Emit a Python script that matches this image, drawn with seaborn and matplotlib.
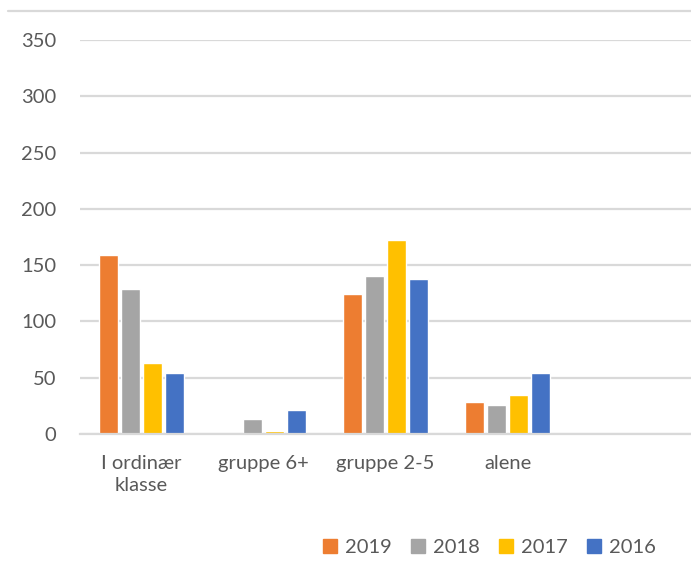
import numpy as np
import pandas as pd
import seaborn as sns
import matplotlib.pyplot as plt
from matplotlib.lines import Line2D

# Values
categories = ["I ordinær\nklasse", "gruppe 6+", "gruppe 2-5", "alene"]
years = ["2019", "2018", "2017", "2016"]
values_2019 = [159, 0, 124, 28]
values_2018 = [129, 13, 140, 26]
values_2017 = [63, 3, 172, 35]
values_2016 = [54, 21, 138, 54]
colors = ["#ED7D31", "#A5A5A5", "#FFC000", "#4472C4"]

TEXT_COLOR = "#595959"
GRID_COLOR = "#D9D9D9"

# Long-form table for seaborn
rows = []
for year, vals in zip(years, [values_2019, values_2018, values_2017, values_2016]):
    for cat, v in zip(categories, vals):
        rows.append({"kategori": cat, "år": year, "antall": v})
df = pd.DataFrame(rows)

sns.set_style("white")
plt.rcParams["font.family"] = ["Lato", "DejaVu Sans"]

fig = plt.figure(figsize=(6.91, 5.81), dpi=100)
ax = fig.add_axes([0.116, 0.253, 0.884, 0.678])

sns.barplot(
    data=df, x="kategori", y="antall", hue="år",
    order=categories, hue_order=years, palette=colors,
    width=0.72, gap=0.12, saturation=1, ax=ax, legend=False,
)

ax.set_xlim(-0.5, 4.5)
ax.set_ylim(0, 350)
ax.set_yticks(np.arange(0, 351, 50))
ax.yaxis.grid(True, color=GRID_COLOR, linewidth=1.6)
ax.set_axisbelow(True)
for side in ["top", "right", "left"]:
    ax.spines[side].set_visible(False)
ax.spines["bottom"].set_color(GRID_COLOR)
ax.spines["bottom"].set_linewidth(1.6)
ax.tick_params(axis="both", length=0, labelsize=14.5, colors=TEXT_COLOR)
ax.tick_params(axis="y", pad=17)
ax.tick_params(axis="x", pad=15)
ax.set_xlabel("")
ax.set_ylabel("")
for lbl in ax.get_xticklabels():
    lbl.set_linespacing(1.4)

# Legend at bottom right
handles = [plt.Rectangle((0, 0), 1, 1, color=c) for c in colors]
fig.legend(
    handles, years, loc="center", bbox_to_anchor=(0.708, 0.057), ncol=4,
    frameon=False, handlelength=0.7, handleheight=0.7, handletextpad=0.4,
    columnspacing=0.95, fontsize=14.5, labelcolor=TEXT_COLOR,
)

# Chart area border line at the top
fig.add_artist(Line2D([0.012, 1.0], [0.981, 0.981], transform=fig.transFigure,
                      color=GRID_COLOR, linewidth=1.6))

fig.savefig("out.png", dpi=100)
